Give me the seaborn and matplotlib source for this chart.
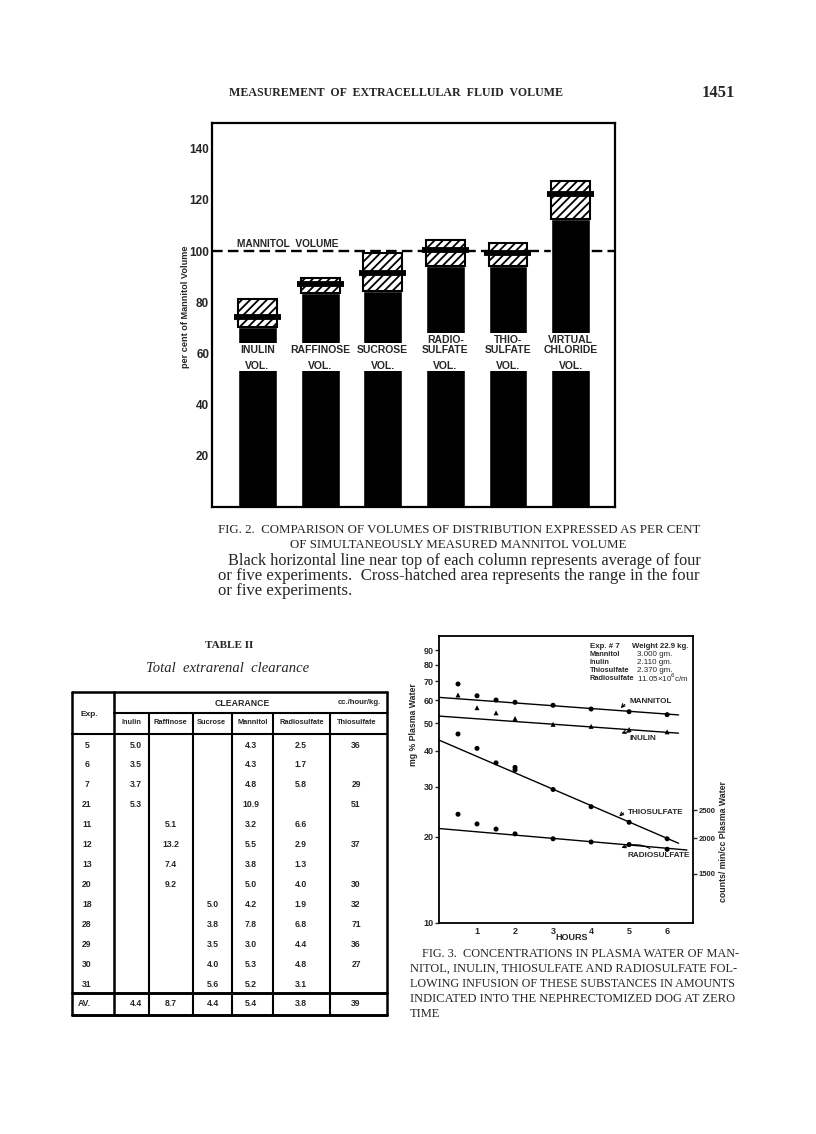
import numpy as np
import matplotlib
matplotlib.use("Agg")
import matplotlib.pyplot as plt
from matplotlib.ticker import NullLocator
import seaborn as sns

sns.set_style("white")
plt.rcParams['font.family'] = ['Liberation Sans', 'DejaVu Sans']
plt.rcParams['hatch.linewidth'] = 1.3

# Fig. 2 - volumes as per cent of simultaneously measured mannitol volume
substances = ["INULIN", "RAFFINOSE", "SUCROSE", "RADIO-\nSULFATE", "THIO-\nSULFATE", "VIRTUAL\nCHLORIDE"]
range_low = [70.2, 83.5, 84.3, 94.1, 94.0, 112.5]
range_high = [81.2, 89.4, 99.2, 104.3, 103.3, 127.5]
average = [74.1, 87.0, 91.4, 100.4, 99.2, 122.4]
mannitol_volume = 100
fig2_yticks = [20, 40, 60, 80, 100, 120, 140]

# Table II - total extrarenal clearance (cc./hour/kg.)
cl_headers = ["Inulin", "Raffinose", "Sucrose", "Mannitol", "Radiosulfate", "Thiosulfate"]
exp_no = ["5", "6", "7", "21", "11", "12", "13", "20", "18", "28", "29", "30", "31"]
cl_inulin = ["5.0", "3.5", "3.7", "5.3", "", "", "", "", "", "", "", "", ""]
cl_raffinose = ["", "", "", "", "5.1", "13.2", "7.4", "9.2", "", "", "", "", ""]
cl_sucrose = ["", "", "", "", "", "", "", "", "5.0", "3.8", "3.5", "4.0", "5.6"]
cl_mannitol = ["4.3", "4.3", "4.8", "10.9", "3.2", "5.5", "3.8", "5.0", "4.2", "7.8", "3.0", "5.3", "5.2"]
cl_radiosulfate = ["2.5", "1.7", "5.8", "", "6.6", "2.9", "1.3", "4.0", "1.9", "6.8", "4.4", "4.8", "3.1"]
cl_thiosulfate = ["36", "", "29", "51", "", "37", "", "30", "32", "71", "36", "27", ""]
cl_average = ["4.4", "8.7", "4.4", "5.4", "3.8", "39"]

# Fig. 3 - plasma water concentrations, exp. 7
hours = [0.5, 1, 1.5, 2, 3, 4, 5, 6]
mannitol_mg = [68.5, 62.3, 60.2, 59.1, 57.7, 56.0, 54.8, 53.5]
inulin_mg = [62.7, 56.6, 54.3, 51.9, 49.5, 48.7, 47.5, 46.6]
thio_hours = [0.5, 1, 1.5, 2, 2, 3, 4, 5, 6]
thio_mg = [45.8, 40.8, 36.3, 35.0, 34.3, 29.3, 25.5, 22.5, 19.7]
radio_counts = [2424, 2242, 2151, 2070, 1990, 1939, 1899, 1828]
fit_hours = [0, 6.3]
mannitol_fit = [61.5, 53.4]
inulin_fit = [52.9, 46.1]
thio_fit = [43.6, 19.0]
radio_fit_hours = [0, 6.52]
radio_fit = [2161, 1818]
fig3_yticks = [10, 20, 30, 40, 50, 60, 70, 80, 90]
counts_ticks = [1500, 2000, 2500]

W, H = 816, 1134
fig = plt.figure(figsize=(W / 100, H / 100), dpi=100)


def rect(x0, y0, x1, y1):
    return [x0 / W, 1 - y1 / H, (x1 - x0) / W, (y1 - y0) / H]


ax2 = fig.add_axes(rect(212, 123, 615, 507))
ax3 = fig.add_axes(rect(439, 636, 693, 923))
page = fig.add_axes([0, 0, 1, 1])
page.set_xlim(0, W)
page.set_ylim(H, 0)
page.axis('off')
page.patch.set_visible(False)
renderer = fig.canvas.get_renderer()


def ptext(x, y, s, width=None, **kw):
    t = page.text(x, y, s, **kw)
    if width:
        w = t.get_window_extent(renderer).width
        t.set_fontsize(t.get_fontsize() * width / w)
    return t


# ---------------- Fig. 2 ----------------
pos = np.arange(len(substances))
gap_bottom = 53.3
gap_top = [63.9, 63.9, 63.9, 67.8, 67.8, 67.8]
ax2.axhline(mannitol_volume, color="black", lw=1.7, ls=(0, (4.5, 2.2)), zorder=0.5)
sns.barplot(x=substances, y=range_low, color="black", saturation=1, width=0.62,
            errorbar=None, ax=ax2, zorder=1)
ax2.bar(pos, np.subtract(range_high, range_low), bottom=range_low, width=0.62,
        color="white", edgecolor="black", hatch="////", linewidth=1.5, zorder=2)
ax2.bar(pos, np.subtract(gap_top, gap_bottom), bottom=gap_bottom, width=0.66,
        color="white", linewidth=0, zorder=3)
ax2.hlines(average, pos - 0.375, pos + 0.375, color="black", linewidth=4.2, zorder=4)
for i, name in enumerate(substances):
    ax2.text(i, 59.4, name, ha="center", va="bottom", fontsize=7.5, fontweight="bold",
             linespacing=0.95, zorder=5)
    ax2.text(i, 55.2, "VOL.", ha="center", va="center", fontsize=7.5, fontweight="bold", zorder=5)
ax2.text(0.48, 102.6, "MANNITOL  VOLUME", ha="center", va="center", fontsize=7.3,
         fontweight="bold", zorder=5)
ax2.set_xlim(-0.727, 5.71)
ax2.set_ylim(0, 150)
ax2.set_yticks(fig2_yticks)
ax2.set_yticklabels([str(v) for v in fig2_yticks], fontsize=8.5, fontweight="bold")
ax2.set_xticks([])
ax2.set_xlabel("")
ax2.tick_params(axis="y", length=0, pad=2)
for sp in ax2.spines.values():
    sp.set_visible(True)
    sp.set_color("black")
    sp.set_linewidth(1.6)
ptext(185, 307, "per cent of Mannitol Volume", rotation=90, ha="center", va="center",
      fontsize=6.6, fontweight="bold")

# ---------------- Fig. 3 ----------------
ax3.set_yscale("log")
for fit in [mannitol_fit, inulin_fit, thio_fit]:
    sns.lineplot(x=fit_hours, y=fit, color="black", lw=1.0, ax=ax3)
sns.scatterplot(x=hours, y=mannitol_mg, marker="o", s=13, color="black", edgecolor="none", ax=ax3)
sns.scatterplot(x=hours, y=inulin_mg, marker="^", s=13, color="black", edgecolor="none", ax=ax3)
sns.scatterplot(x=thio_hours, y=thio_mg, marker="o", s=13, color="black", edgecolor="none", ax=ax3)
ax3.set_xlim(0, 6.68)
ax3.set_ylim(10, 100.8)
ax3.set_yticks(fig3_yticks)
ax3.set_yticklabels([str(v) for v in fig3_yticks], fontsize=6.5, fontweight="bold")
ax3.yaxis.set_minor_locator(NullLocator())
ax3.set_xticks([1, 2, 3, 4, 5, 6])
ax3.set_xticklabels(["1", "2", "3", "4", "5", "6"], fontsize=6.5, fontweight="bold")
ax3.tick_params(axis="y", direction="out", length=3, width=1, pad=1, left=True)
ax3.tick_params(axis="x", length=0, pad=3)
ax3.set_xlabel("")
ax3.set_ylabel("")
for sp in ax3.spines.values():
    sp.set_color("black")
    sp.set_linewidth(1.3)

ax3r = ax3.twinx()
ax3r.set_yscale("log")
sns.lineplot(x=radio_fit_hours, y=radio_fit, color="black", lw=1.0, ax=ax3r)
sns.scatterplot(x=hours, y=radio_counts, marker="o", s=13, color="black", edgecolor="none", ax=ax3r)
ax3r.set_ylim(1010, 10181)
ax3r.set_yticks(counts_ticks)
ax3r.set_yticklabels([str(v) for v in counts_ticks], fontsize=5.5, fontweight="bold")
ax3r.yaxis.set_minor_locator(NullLocator())
ax3r.tick_params(axis="y", direction="out", length=3, width=1, pad=1, right=True)
ax3r.set_ylabel("")
for sp in ax3r.spines.values():
    sp.set_visible(False)

arrow = dict(arrowstyle="->", lw=0.8, color="black", connectionstyle="arc3,rad=0.35",
             shrinkA=1, shrinkB=0)
for label, xt, yt, xa, ya in [("MANNITOL", 5.0, 59.3, 4.78, 56.4),
                              ("INULIN", 5.0, 44.0, 4.8, 46.0),
                              ("THIOSULFATE", 4.97, 24.4, 4.74, 23.6),
                              ("RADIOSULFATE", 4.97, 17.15, 4.8, 18.3)]:
    ax3.annotate(label, xy=(xa, ya), xytext=(xt, yt), ha="left", va="center",
                 fontsize=5.9, fontweight="bold", arrowprops=arrow)

ptext(413, 725, "mg % Plasma Water", rotation=90, ha="center", va="center", fontsize=6.3,
      fontweight="bold")
ptext(572, 937, "HOURS", ha="center", va="center", fontsize=6.5, fontweight="bold")
ptext(723, 842, "counts/ min/cc Plasma Water", rotation=90, ha="center", va="center",
      fontsize=6.3, fontweight="bold")
info = [("Exp. # 7", "Weight 22.9 kg."), ("Mannitol", "3.000 gm."), ("Inulin", "2.110 gm."),
        ("Thiosulfate", "2.370 gm."), ("Radiosulfate", "11.05\u00d710$^{6}$c/m")]
for k, (a, b) in enumerate(info):
    yy = 646 if k == 0 else 647 + 7.8 * k
    ptext(590, yy, a, width=30 if k == 0 else None, ha="left", va="center",
          fontsize=5.3, fontweight="bold")
    ptext(632 if k == 0 else 637, yy, b, width=56 if k == 0 else None, ha="left", va="center",
          fontsize=5.8, fontweight="bold" if k == 0 else "normal")

# ---------------- Table II ----------------
tl, tr, tt, tb = 72, 387, 692, 1015
col_edges = [114, 149, 193, 232, 273, 330, 387]
col_x = [136, 171, 213, 251, 301, 356]
lw = 1.5
for x in [tl, tr, 114]:
    page.plot([x, x], [tt, tb], color="black", lw=lw + 0.3)
for x in col_edges[1:-1]:
    page.plot([x, x], [713, tb], color="black", lw=lw)
page.plot([tl, tr], [tt, tt], color="black", lw=lw + 0.3)
page.plot([tl, tr], [tb, tb], color="black", lw=lw + 0.6)
page.plot([114, tr], [713, 713], color="black", lw=lw)
page.plot([tl, tr], [734, 734], color="black", lw=lw)
page.plot([tl, tr], [993, 993], color="black", lw=lw + 0.6)

tkw = dict(ha="center", va="center", fontweight="bold")
ptext(89, 714, "Exp.", fontsize=6, **tkw)
ptext(242, 703, "CLEARANCE", fontsize=6.3, **tkw)
ptext(381, 703, "cc./hour/kg.", ha="right", va="center", fontsize=5.6, fontweight="bold")
hx = [131, 170, 211, 253, 302, 357]
for x, h in zip(hx, cl_headers):
    ptext(x, 723, h, fontsize=5.3, **tkw)
columns = [cl_inulin, cl_raffinose, cl_sucrose, cl_mannitol, cl_radiosulfate, cl_thiosulfate]
for r, e in enumerate(exp_no):
    y = 745 + 19.95 * r
    ptext(87, y, e, fontsize=6.2, **tkw)
    for x, col in zip(col_x, columns):
        if col[r]:
            ptext(x, y, col[r], fontsize=6.2, **tkw)
ptext(84, 1003, "AV.", fontsize=6.2, **tkw)
for x, v in zip(col_x, cl_average):
    ptext(x, 1003, v, fontsize=6.2, **tkw)

ptext(229, 645, "TABLE II", ha="center", va="center", family="Liberation Serif",
      fontsize=8, fontweight="bold")
ptext(228, 668, "Total  extrarenal  clearance", ha="center", va="center",
      family="Liberation Serif", style="italic", fontsize=10.5)

# ---------------- page text ----------------
serif = dict(family="Liberation Serif", va="center", ha="left")
ptext(229, 93, "MEASUREMENT  OF  EXTRACELLULAR  FLUID  VOLUME", width=333,
      fontweight="bold", fontsize=8, **serif)
ptext(702, 93, "1451", width=33, fontweight="bold", fontsize=12, **serif)

ptext(218, 530, "FIG. 2.  COMPARISON OF VOLUMES OF DISTRIBUTION EXPRESSED AS PER CENT",
      width=482, fontsize=8, **serif)
ptext(290, 545, "OF SIMULTANEOUSLY MEASURED MANNITOL VOLUME", width=338, fontsize=8, **serif)
ptext(228, 561, "Black horizontal line near top of each column represents average of four",
      width=472, fontsize=10, **serif)
body = ptext(218, 576, "or five experiments.  Cross-hatched area represents the range in the four",
             width=482, fontsize=10, **serif)
ptext(218, 591, "or five experiments.", fontsize=body.get_fontsize(), **serif)

cap3 = [(422, "FIG. 3.  CONCENTRATIONS IN PLASMA WATER OF MAN-"),
        (410, "NITOL, INULIN, THIOSULFATE AND RADIOSULFATE FOL-"),
        (410, "LOWING INFUSION OF THESE SUBSTANCES IN AMOUNTS"),
        (410, "INDICATED INTO THE NEPHRECTOMIZED DOG AT ZERO")]
for k, (x, s) in enumerate(cap3):
    last = ptext(x, 954 + 15 * k, s, width=738 - x, fontsize=8, **serif)
ptext(410, 1014, "TIME", fontsize=last.get_fontsize(), **serif)

fig.savefig("out.png", dpi=100)
